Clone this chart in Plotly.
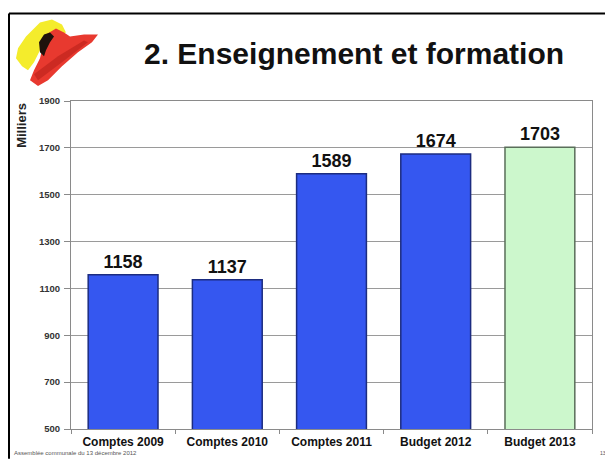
import plotly.graph_objects as go

categories = ["Comptes 2009", "Comptes 2010", "Comptes 2011", "Budget 2012", "Budget 2013"]
values = [1158, 1137, 1589, 1674, 1703]
y_ticks = [500, 700, 900, 1100, 1300, 1500, 1700, 1900]
title_text = "2. Enseignement et formation"
y_title = "Milliers"
footer_text = "Assemblée communale du 13 décembre 2012"

W, H = 605, 461
L, R, T, B = 71, 592, 101, 431

def px(x):
    return (x - L) / (R - L)

def py(y):
    return (B - y) / (B - T)

fill_colors = ["#3557f0"] * 4 + ["#ccf7cc"]
line_colors = ["#1c2c80"] * 4 + ["#5a6e5a"]
FONT = "Liberation Sans, Arial"

fig = go.Figure(go.Bar(
    x=categories, y=values,
    marker=dict(color=fill_colors, line=dict(color=line_colors, width=1.5)),
    text=[str(v) for v in values], textposition="outside",
    texttemplate="<b>%{text}</b>",
    textfont=dict(family=FONT, size=18, color="#111111"),
    cliponaxis=False, width=0.67,
))

fig.update_layout(
    width=W, height=H,
    margin=dict(l=L, r=W - R, t=T, b=H - B),
    paper_bgcolor="white", plot_bgcolor="white",
    showlegend=False,
    font=dict(family=FONT),
)
fig.update_yaxes(
    range=[500, 1900], tickvals=y_ticks, ticktext=[f"<b>{t}</b>" for t in y_ticks],
    showgrid=True, gridcolor="#9a9a9a", gridwidth=1,
    showline=True, linecolor="#8a8a8a", linewidth=1, mirror=True,
    ticks="outside", ticklen=6, tickcolor="#8a8a8a",
    tickfont=dict(size=9.5, color="#333333", family=FONT),
    ticklabelstandoff=2,
    zeroline=False,
)
fig.update_xaxes(
    tickvals=categories, ticktext=[f"<b>{c}</b>" for c in categories],
    showline=True, linecolor="#8a8a8a", linewidth=1, mirror=True,
    ticks="outside", ticklen=4, tickcolor="#8a8a8a", tickson="boundaries",
    tickfont=dict(size=12, color="#111111", family=FONT),
    ticklabelstandoff=2,
)

ann = []
ann.append(dict(text=f"<b>{title_text}</b>", x=px(354), y=py(53), xref="paper", yref="paper",
                showarrow=False, xanchor="center", yanchor="middle",
                font=dict(size=30, color="#111111", family=FONT)))
ann.append(dict(text=f"<b>{y_title}</b>", x=px(22), y=py(126), xref="paper", yref="paper",
                showarrow=False, xanchor="center", yanchor="middle", textangle=-90,
                font=dict(size=13, color="#222222", family=FONT)))
ann.append(dict(text=footer_text, x=px(12), y=py(455), xref="paper", yref="paper",
                showarrow=False, xanchor="left", yanchor="middle",
                font=dict(size=6, color="#555555", family=FONT)))
ann.append(dict(text="13", x=px(598), y=py(455), xref="paper", yref="paper",
                showarrow=False, xanchor="left", yanchor="middle",
                font=dict(size=5, color="#555555", family=FONT)))
fig.update_layout(annotations=ann)

def path(points):
    return "M " + " L ".join(f"{px(x):.4f},{py(y):.4f}" for x, y in points) + " Z"

shapes = []
# slide border
shapes.append(dict(type="line", xref="paper", yref="paper", x0=px(9), x1=px(605), y0=py(13), y1=py(13),
                   line=dict(color="black", width=2)))
shapes.append(dict(type="line", xref="paper", yref="paper", x0=px(9), x1=px(9), y0=py(13), y1=py(461),
                   line=dict(color="black", width=2)))
# logo (approximate brush strokes)
shapes.append(dict(type="path", xref="paper", yref="paper",
                   path=path([(40, 22), (52, 19), (62, 24), (66, 32), (56, 36), (46, 40), (40, 50), (34, 62),
                              (28, 70), (22, 66), (16, 58), (18, 48), (26, 36)]),
                   fillcolor="#f4ec2c", line=dict(width=0)))
shapes.append(dict(type="path", xref="paper", yref="paper",
                   path=path([(46, 34), (56, 28), (64, 32), (70, 36), (84, 34), (98, 34), (92, 42), (78, 52),
                              (62, 66), (48, 80), (38, 86), (30, 80), (34, 70), (40, 58)]),
                   fillcolor="#e8392f", line=dict(width=0)))
shapes.append(dict(type="path", xref="paper", yref="paper",
                   path=path([(44, 34), (50, 32), (54, 36), (50, 42), (46, 50), (44, 56), (40, 52), (39, 42)]),
                   fillcolor="#1e120c", line=dict(width=0)))
shapes.append(dict(type="path", xref="paper", yref="paper",
                   path=path([(34, 74), (58, 56), (84, 40), (88, 42), (62, 62), (38, 80)]),
                   fillcolor="#cc2a22", line=dict(width=0)))
fig.update_layout(shapes=shapes)

fig.write_html("out.html", config={"displayModeBar": False},
               post_script="document.body.style.margin='0';document.body.style.overflow='hidden';")
